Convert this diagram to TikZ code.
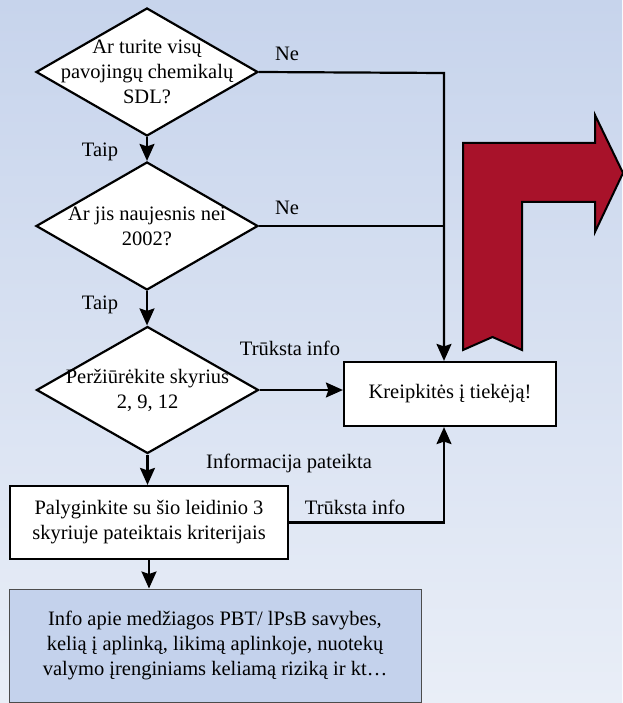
\documentclass[tikz,border=0pt]{standalone}
\usepackage{fontspec}
\setmainfont{Liberation Serif}
\usetikzlibrary{shapes.geometric,arrows.meta}
\definecolor{bgtop}{RGB}{199,212,236}
\definecolor{bgbot}{RGB}{233,238,247}
\definecolor{infofill}{RGB}{196,210,236}
\definecolor{bentred}{RGB}{168,18,42}
\tikzset{
  question/.style={diamond,draw,fill=white,line width=2.2pt,
    minimum width=222pt,minimum height=128pt,inner sep=-30pt,align=center},
  stepbox/.style={rectangle,draw,fill=white,line width=2.2pt,align=center},
  flow/.style={line width=2.2pt,-{Stealth[length=17pt,width=15pt,inset=2.5pt]}},
  lbl/.style={inner sep=0pt}
}

\begin{document}
\begin{tikzpicture}[x=1pt,y=-1pt,font=\fontsize{20.5}{25}\selectfont]
  \useasboundingbox (0,0) rectangle (622,703);
  \shade[top color=bgtop,bottom color=bgbot] (0,0) rectangle (622,703);

  %bent arrow on the right
  \draw[fill=bentred,line width=2pt,line join=miter]
    (463,350) -- (463,143) -- (595,143) -- (595,115) -- (623,173)
    -- (595,232) -- (595,202) -- (522,202) -- (522,350) -- (492.5,337) -- cycle;

  %questions
  \node[question] (q1) at (147,72) {Ar turite visų\\pavojingų chemikalų\\SDL?};
  \node[question] (q2) at (147,226) {Ar jis naujesnis nei\\2002?};
  \node[question,minimum height=127pt] (q3) at (147.5,390) {Peržiūrėkite skyrius\\2, 9, 12};

  %boxes
  \node[stepbox,minimum width=212pt,minimum height=64pt] (ask) at (450,394) {Kreipkitės į tiekėją!};
  \node[stepbox,minimum width=278pt,minimum height=73pt] (cmp) at (149,522.5)
    {Palyginkite su šio leidinio 3\\skyriuje pateiktais kriterijais};
  \node[rectangle,draw=black!70,line width=1pt,fill=infofill,align=center,
    minimum width=412pt,minimum height=113pt] (info) at (215,645.5)
    {Info apie medžiagos PBT/ lPsB savybes,\\kelią į aplinką, likimą aplinkoje, nuotekų\\valymo įrenginiams keliamą riziką ir kt…};

  \coordinate (trunk) at (444,73);

  %connectors
  \draw[flow] (q1.south) -- (q2.north);
  \draw[flow] (q2.south) -- (q2.south |- q3.north);
  \draw[flow] (q3.south) -- (q3.south |- cmp.north);
  \draw[flow] (cmp.south) -- (cmp.south |- info.north);
  \draw[flow] (q1.east) -- (trunk) -- (trunk |- ask.north);
  \draw[line width=2.2pt] (q2.east) -- (q2.east -| trunk);
  \draw[flow] (q3.east) -- (q3.east -| ask.west);
  \draw[flow] (cmp.east) -| (trunk |- ask.south);

  %labels
  \node[lbl] (ne1) at (287,54) {Ne};
  \node[lbl] (ne2) at (287,208) {Ne};
  \node[lbl] (taip1) at (100,152) {Taip};
  \node[lbl] (taip2) at (100,305) {Taip};
  \node[lbl] (miss1) at (290,348) {Trūksta info};
  \node[lbl] (given) at (289,463) {Informacija pateikta};
  \node[lbl] (miss2) at (355,507) {Trūksta info};
\end{tikzpicture}
\end{document}
